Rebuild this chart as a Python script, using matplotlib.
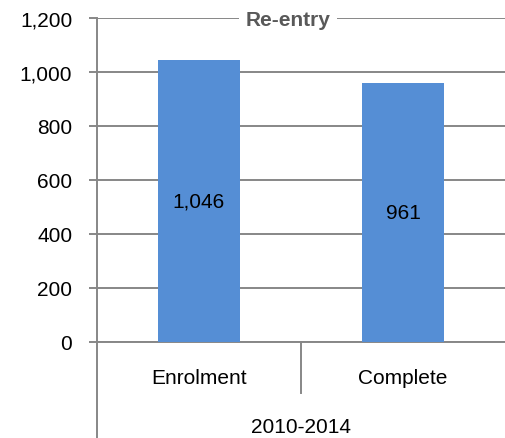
import matplotlib
matplotlib.use("Agg")
import matplotlib.pyplot as plt

# データ
categories = ["Enrolment", "Complete"]
values = [1046, 961]
group_label = "2010-2014"
title = "Re-entry"
yticks = [0, 200, 400, 600, 800, 1000, 1200]

plt.rcParams['font.family'] = ['Liberation Sans', 'DejaVu Sans']
FS = 15

W, H = 505, 439
fig = plt.figure(figsize=(W / 100, H / 100), dpi=100)
ax = fig.add_axes([97 / W, 1 - 343 / H, (505 - 97) / W, (343 - 19) / H])

grid_color = '#878787'
x = range(len(categories))
ax.bar(x, values, width=0.4, color='#558ED5', zorder=3)
for xi, v in zip(x, values):
    ax.text(xi, v / 2, f"{v:,}", ha='center', va='center', fontsize=FS, color='black', zorder=4)

ax.set_xlim(-0.5, 1.5)
ax.set_ylim(0, 1200)
ax.set_yticks(yticks)
ax.set_yticklabels([f"{t:,}" for t in yticks], fontsize=FS)
ax.yaxis.grid(True, color=grid_color, lw=1.4, zorder=0)
ax.tick_params(axis='y', length=5.8, color=grid_color, width=1.4, pad=12)
ax.set_xticks([])
for s in ['top', 'right']:
    ax.spines[s].set_visible(False)
ax.spines['left'].set_color(grid_color)
ax.spines['left'].set_linewidth(1.4)
ax.spines['bottom'].set_color(grid_color)
ax.spines['bottom'].set_linewidth(1.4)

# 多段カテゴリ軸
ah = 343 - 19
ax.plot([0.5, 0.5], [0, -(394 - 343) / ah], transform=ax.transAxes, color=grid_color, lw=1.4, clip_on=False)
ax.plot([0, 0], [0, -(439 - 343) / ah], transform=ax.transAxes, color=grid_color, lw=1.4, clip_on=False)
for i, c in enumerate(categories):
    ax.text(0.25 + 0.5 * i, -(379 - 343) / ah, c, transform=ax.transAxes, ha='center', va='center', fontsize=FS)
ax.text(0.5, -(428 - 343) / ah, group_label, transform=ax.transAxes, ha='center', va='center', fontsize=FS)

# タイトル
fig.text(288 / W, 1 - 20 / H, title, ha='center', va='center', fontsize=FS, fontweight='bold',
         color='#595959', bbox=dict(facecolor='white', edgecolor='none', pad=5), zorder=5)

fig.savefig("out.png", dpi=100)
